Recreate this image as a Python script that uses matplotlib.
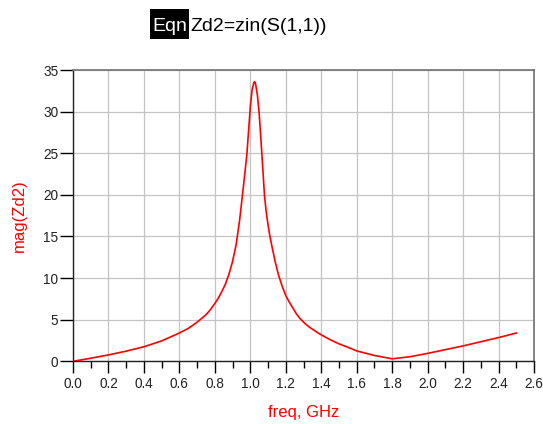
import matplotlib
matplotlib.use("Agg")
import matplotlib.pyplot as plt
from matplotlib.patches import Rectangle
from matplotlib.ticker import MultipleLocator

plt.rcParams['font.family'] = ['Liberation Sans', 'DejaVu Sans']

# Data
freq_ghz = [0.00, 0.10, 0.20, 0.30, 0.40, 0.50, 0.60, 0.65, 0.70, 0.75,
            0.775, 0.80, 0.82, 0.84, 0.86, 0.88, 0.90, 0.92, 0.94, 0.96,
            0.98, 0.99, 1.00, 1.01, 1.02, 1.025, 1.03, 1.04, 1.05, 1.06,
            1.07, 1.08, 1.09, 1.10, 1.11, 1.12, 1.14, 1.16, 1.18, 1.20,
            1.22, 1.24, 1.26, 1.28, 1.31, 1.34, 1.39, 1.45, 1.50, 1.56,
            1.60, 1.70, 1.80, 1.90, 2.00, 2.10, 2.20, 2.30, 2.40, 2.50]
mag_zd2 = [0.00, 0.37, 0.77, 1.22, 1.75, 2.45, 3.40, 3.95, 4.70, 5.60,
           6.20, 6.95, 7.60, 8.40, 9.30, 10.50, 12.00, 14.00, 17.00, 20.80,
           24.70, 27.60, 30.60, 32.60, 33.50, 33.60, 33.30, 32.00, 29.80, 26.60,
           23.30, 19.90, 17.90, 16.40, 15.10, 14.00, 12.00, 10.30, 9.00, 7.90,
           7.10, 6.40, 5.70, 5.15, 4.50, 4.00, 3.30, 2.60, 2.10, 1.60,
           1.25, 0.70, 0.30, 0.55, 0.95, 1.40, 1.85, 2.35, 2.85, 3.40]

x_ticks = [0.0, 0.2, 0.4, 0.6, 0.8, 1.0, 1.2, 1.4, 1.6, 1.8, 2.0, 2.2, 2.4, 2.6]
y_ticks = [0, 5, 10, 15, 20, 25, 30, 35]

W, H = 543, 424
fig = plt.figure(figsize=(W / 100, H / 100), dpi=100)
ax = fig.add_axes([73 / W, 1 - 361.3 / H, (534 - 73) / W, (361.3 - 70) / H])

ax.plot(freq_ghz, mag_zd2, color='#ff0000', lw=1.2, zorder=3)

ax.set_xlim(0, 2.6)
ax.set_ylim(0, 35)
ax.set_xticks(x_ticks)
ax.set_xticklabels([f"{v:.1f}" for v in x_ticks])
ax.xaxis.set_minor_locator(MultipleLocator(0.1))
ax.set_yticks(y_ticks)
ax.set_yticklabels([str(v) for v in y_ticks])

ax.grid(True, which='major', color='#c4c4c4', lw=0.9)
ax.set_axisbelow(True)

for s in ('top', 'right'):
    ax.spines[s].set_color('#707070')
    ax.spines[s].set_linewidth(1.2)
for s in ('left', 'bottom'):
    ax.spines[s].set_color('#222222')
    ax.spines[s].set_linewidth(1.0)

ax.tick_params(axis='x', which='major', direction='out', length=8.6, width=1.0,
               color='black', labelsize=9.8, pad=3, labelcolor='#222222')
ax.tick_params(axis='x', which='minor', direction='out', length=5, width=1.0,
               color='black')
ax.tick_params(axis='y', which='major', direction='out', length=9.4, width=1.0,
               color='black', labelsize=9.8, pad=1.2, labelcolor='#222222')

# axis labels
fig.text(303.5 / W, 1 - 413 / H, "freq, GHz", color='#ff0000', fontsize=12,
         ha='center', va='center')
fig.text(19 / W, 1 - 216 / H, "mag(Zd2)", color='#ff0000', fontsize=12,
         ha='center', va='center', rotation=90)

# equation header
fig.add_artist(Rectangle((150 / W, 1 - 39.3 / H), 39 / W, 30 / H,
                         transform=fig.transFigure, facecolor='black',
                         edgecolor='none'))
fig.text(169.5 / W, 1 - 30.7 / H, "Eqn", color='white', fontsize=14,
         ha='center', va='baseline')
fig.text(190 / W, 1 - 30.7 / H, "Zd2=zin(S(1,1))", color='black', fontsize=14,
         ha='left', va='baseline')

fig.savefig("out.png", dpi=100, facecolor='white')
